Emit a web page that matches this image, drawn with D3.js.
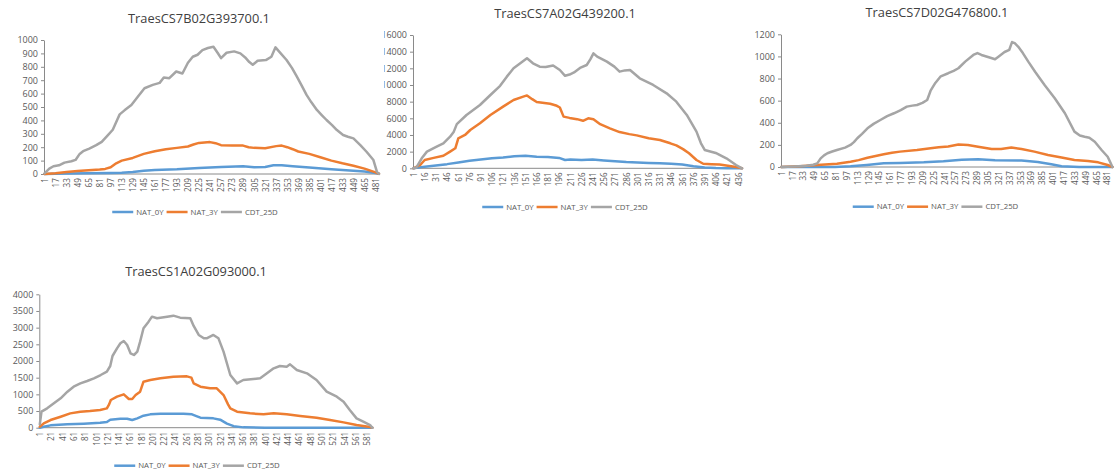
<!DOCTYPE html>
<html><head><meta charset="utf-8">
<script src="https://cdn.jsdelivr.net/npm/d3@7"></script>
<style>body{margin:0;background:#fff}svg{display:block}</style>
</head><body>
<svg id="c" width="1118" height="475"></svg>
<script>
// ---------------- data ----------------
const SERIES_NAMES = ["NAT_0Y", "NAT_3Y", "CDT_25D"];
const TITLES = ["TraesCS7B02G393700.1", "TraesCS7A02G439200.1", "TraesCS7D02G476800.1", "TraesCS1A02G093000.1"];

const P1_YTICKS = [0,100,200,300,400,500,600,700,800,900,1000];
const P2_YTICKS = [0,2000,4000,6000,8000,10000,12000,14000,16000];
const P3_YTICKS = [0,200,400,600,800,1000,1200];
const P4_YTICKS = [0,500,1000,1500,2000,2500,3000,3500,4000];

const P1_XTICKS = [1,17,33,49,65,81,97,113,129,145,161,177,193,209,225,241,257,273,289,305,321,337,353,369,385,401,417,433,449,465,481];
const P2_XTICKS = [1,16,31,46,61,76,91,106,121,136,151,166,181,196,211,226,241,256,271,286,301,316,331,346,361,376,391,406,421,436];
const P3_XTICKS = [1,17,33,49,65,81,97,113,129,145,161,177,193,209,225,241,257,273,289,305,321,337,353,369,385,401,417,433,449,465,481];
const P4_XTICKS = [1,21,41,61,81,101,121,141,161,181,201,221,241,261,281,301,321,341,361,381,401,421,441,461,481,501,521,541,561,581];

const P_NCAT = [486, 442, 489, 591];

// [category, value]
const P1_NAT_0Y = [[1,0],[33,3],[65,5],[97,8],[113,10],[129,15],[145,25],[161,30],[193,35],[225,45],[257,52],[289,57],[305,50],[321,52],[333,65],[345,65],[361,58],[385,48],[417,35],[449,25],[465,18],[481,8],[486,2]];
const P1_NAT_3Y = [[1,0],[17,5],[33,15],[49,22],[65,28],[81,33],[89,38],[97,50],[105,80],[113,100],[129,120],[145,150],[161,170],[177,185],[193,195],[209,205],[217,220],[225,232],[241,238],[249,230],[257,215],[273,212],[289,212],[297,200],[305,195],[321,192],[337,208],[345,212],[353,200],[361,185],[369,168],[385,150],[401,125],[417,100],[433,80],[449,62],[465,40],[481,12],[486,2]];
const P1_CDT_25D = [[1,5],[8,40],[14,58],[22,65],[30,85],[40,95],[46,105],[52,150],[57,170],[66,190],[76,215],[84,240],[93,290],[100,330],[106,400],[110,445],[117,475],[127,515],[136,575],[146,640],[158,665],[168,680],[174,720],[182,715],[192,765],[201,750],[209,830],[216,875],[223,890],[230,925],[238,940],[246,950],[252,905],[257,865],[265,905],[276,915],[285,900],[292,870],[298,835],[303,815],[310,845],[322,850],[330,875],[336,945],[341,915],[352,851],[360,790],[367,726],[374,660],[381,590],[388,535],[396,478],[403,440],[410,403],[418,365],[425,328],[434,291],[441,278],[449,266],[459,216],[468,166],[478,104],[483,17],[486,0]];

const P2_NAT_0Y = [[1,0],[16,200],[31,350],[46,500],[61,700],[76,900],[91,1050],[106,1200],[121,1300],[136,1450],[151,1500],[166,1400],[181,1350],[196,1250],[204,1000],[211,1050],[226,1000],[241,1050],[256,950],[271,850],[286,750],[301,700],[316,650],[331,600],[346,550],[361,450],[376,250],[391,100],[406,40],[421,15],[441,0]];
const P2_NAT_3Y = [[1,0],[10,400],[16,1000],[28,1250],[41,1500],[50,2000],[57,2400],[61,3600],[70,4000],[77,4600],[90,5400],[104,6400],[121,7400],[135,8200],[148,8600],[153,8750],[160,8300],[166,7950],[184,7750],[193,7500],[197,7300],[202,6200],[210,6050],[220,5900],[228,5700],[235,6000],[242,5900],[251,5300],[264,4800],[277,4350],[290,4100],[300,3950],[316,3600],[331,3400],[345,3000],[353,2750],[362,2300],[370,1800],[380,1000],[389,550],[400,500],[411,450],[422,300],[433,150],[441,0]];
const P2_CDT_25D = [[1,0],[5,100],[12,1200],[19,2000],[32,2600],[41,3000],[50,3800],[55,4400],[59,5300],[72,6400],[90,7600],[104,8800],[117,9900],[126,11000],[135,12000],[144,12600],[153,13200],[161,12600],[170,12200],[178,12150],[188,12350],[197,11800],[204,11100],[210,11250],[216,11500],[224,12050],[233,12400],[238,13100],[242,13800],[247,13400],[260,12800],[270,12200],[277,11600],[284,11750],[291,11800],[304,10800],[322,10000],[340,9000],[353,8000],[367,6400],[380,4400],[386,3000],[391,2200],[407,1800],[420,1200],[433,400],[441,0]];

const P3_NAT_0Y = [[1,0],[80,1],[103,6],[127,18],[152,33],[176,37],[211,42],[240,52],[267,66],[291,70],[316,60],[355,58],[379,46],[399,24],[414,6],[440,1],[489,0]];
const P3_NAT_3Y = [[1,0],[29,6],[54,18],[83,30],[103,48],[115,62],[128,84],[140,100],[152,115],[164,128],[176,139],[201,154],[221,169],[233,178],[247,186],[262,203],[276,199],[291,184],[311,163],[325,163],[340,176],[355,163],[374,139],[394,109],[414,85],[433,63],[453,54],[468,42],[482,18],[489,0]];
const P3_CDT_25D = [[1,0],[20,5],[38,12],[48,20],[54,33],[59,78],[64,105],[69,124],[76,140],[83,154],[95,175],[103,199],[108,225],[113,260],[120,300],[128,350],[137,390],[147,425],[157,460],[167,486],[177,515],[186,546],[194,555],[201,561],[209,580],[216,606],[221,690],[228,760],[236,820],[247,848],[255,870],[262,893],[272,953],[284,1013],[290,1030],[296,1013],[308,990],[316,975],[321,998],[330,1040],[337,1060],[341,1130],[345,1120],[350,1089],[357,1030],[365,953],[375,862],[389,742],[404,622],[419,486],[433,320],[441,285],[448,274],[455,265],[463,229],[473,154],[482,93],[486,40],[489,0]];

const P4_NAT_0Y = [[1,0],[8,30],[20,70],[50,100],[79,120],[108,150],[120,170],[126,240],[144,270],[156,270],[165,230],[174,280],[185,360],[197,400],[215,420],[256,420],[271,400],[280,340],[286,300],[309,280],[321,240],[333,120],[345,45],[362,10],[400,0],[591,0]];
const P4_NAT_3Y = [[1,30],[8,130],[20,230],[38,330],[55,430],[73,480],[90,500],[108,530],[120,580],[124,700],[127,830],[138,930],[150,1000],[159,860],[165,860],[171,980],[179,1080],[185,1380],[197,1430],[215,1480],[238,1530],[262,1540],[270,1500],[274,1330],[286,1230],[303,1180],[315,1180],[327,980],[335,700],[339,580],[351,480],[374,430],[398,400],[416,430],[439,400],[463,350],[492,300],[516,230],[540,160],[563,80],[587,20],[591,0]];
const P4_CDT_25D = [[1,100],[4,480],[14,580],[26,730],[38,880],[50,1080],[61,1230],[73,1330],[85,1400],[97,1480],[109,1580],[120,1680],[126,1850],[130,2150],[138,2380],[144,2530],[150,2600],[156,2480],[162,2230],[168,2180],[174,2280],[179,2580],[185,2980],[194,3180],[200,3330],[209,3280],[227,3330],[238,3360],[250,3300],[268,3280],[274,3050],[283,2780],[292,2680],[297,2680],[309,2780],[318,2680],[327,2280],[339,1580],[351,1330],[362,1430],[380,1460],[392,1480],[404,1630],[416,1780],[427,1850],[439,1830],[445,1900],[457,1730],[475,1630],[492,1430],[510,1080],[528,930],[540,780],[551,530],[563,280],[575,180],[587,80],[591,0]];

// ---------------- drawing ----------------
const COLORS = ["#5B9BD5", "#ED7D31", "#A5A5A5"];
const FONT = "'Open Sans', 'Liberation Sans', sans-serif";
const TXT = "#595959";
const AXIS = "#8a8a8a";

const panels = [
  {title: TITLES[0], yTicks: P1_YTICKS, xTicks: P1_XTICKS, n: P_NCAT[0], series: [P1_NAT_0Y, P1_NAT_3Y, P1_CDT_25D],
   axisX: 44, x1: 44.5, xRef: 481, xRefPos: 375.5, top: 40, bottom: 174, titleX: 199, titleY: 23, legX: 195, legY: 212},
  {title: TITLES[1], yTicks: P2_YTICKS, xTicks: P2_XTICKS, n: P_NCAT[1], series: [P2_NAT_0Y, P2_NAT_3Y, P2_CDT_25D],
   axisX: 413, x1: 413.5, xRef: 436, xRefPos: 738.3, top: 35, bottom: 168.3, titleX: 565, titleY: 17.5, legX: 565, legY: 207, clipLeft: 384},
  {title: TITLES[2], yTicks: P3_YTICKS, xTicks: P3_XTICKS, n: P_NCAT[2], series: [P3_NAT_0Y, P3_NAT_3Y, P3_CDT_25D],
   axisX: 781, x1: 781.3, xRef: 481, xRefPos: 1107, top: 34.3, bottom: 167, titleX: 937, titleY: 16.5, legX: 935.5, legY: 206.7},
  {title: TITLES[3], yTicks: P4_YTICKS, xTicks: P4_XTICKS, n: P_NCAT[3], series: [P4_NAT_0Y, P4_NAT_3Y, P4_CDT_25D],
   axisX: 39.3, x1: 39.8, xRef: 581, xRefPos: 366.7, top: 294.3, bottom: 427.7, titleX: 196, titleY: 276, legX: 197, legY: 465.7}
];

const svg = d3.select("#c");
const defs = svg.append("defs");

panels.forEach((p, i) => {
  let g = svg.append("g");
  if (p.clipLeft) {
    defs.append("clipPath").attr("id", "clip" + i)
      .append("rect").attr("x", p.clipLeft).attr("y", 0).attr("width", 1118).attr("height", 475);
    g.attr("clip-path", `url(#clip${i})`);
  }
  const yMax = d3.max(p.yTicks);
  const x = d3.scaleLinear().domain([1, p.xRef]).range([p.x1, p.xRefPos]);
  const y = d3.scaleLinear().domain([0, yMax]).range([p.bottom, p.top]);

  // title
  g.append("text").attr("x", p.titleX).attr("y", p.titleY).attr("text-anchor", "middle")
    .attr("fill", "#404040").style("font-family", FONT).style("font-size", "12.8px").text(p.title);

  // y axis
  const ya = g.append("g").attr("transform", `translate(${p.axisX},0)`)
    .call(d3.axisLeft(y).tickValues(p.yTicks).tickSize(3).tickSizeOuter(0).tickPadding(3).tickFormat(d3.format("d")));
  ya.select(".domain").attr("stroke", AXIS);
  ya.selectAll(".tick line").attr("stroke", AXIS);
  ya.selectAll("text").attr("fill", TXT).style("font-family", FONT).style("font-size", "9px");

  // x axis
  const xa = g.append("g").attr("transform", `translate(0,${p.bottom})`)
    .call(d3.axisBottom(x).tickValues(p.xTicks).tickSize(0).tickSizeOuter(0).tickFormat(d3.format("d")));
  xa.select(".domain").remove();
  xa.selectAll("text")
    .attr("transform", "rotate(-90)")
    .attr("text-anchor", "end")
    .attr("x", -4).attr("y", 0).attr("dy", "0.35em")
    .attr("fill", TXT).style("font-family", FONT).style("font-size", "8.2px");
  g.append("line").attr("x1", p.axisX).attr("x2", x(p.n)).attr("y1", y(0)).attr("y2", y(0))
    .attr("stroke", AXIS).attr("stroke-width", 1);

  // lines
  const line = d3.line().x(d => x(d[0])).y(d => y(d[1]));
  p.series.forEach((s, k) => {
    g.append("path").datum(s).attr("d", line).attr("fill", "none")
      .attr("stroke", COLORS[k]).attr("stroke-width", 2.5)
      .attr("stroke-linejoin", "round").attr("stroke-linecap", "round");
  });

  // legend
  const lg = g.append("g");
  let cx = 0;
  SERIES_NAMES.forEach((name, k) => {
    lg.append("line").attr("x1", cx).attr("x2", cx + 21).attr("y1", 0).attr("y2", 0)
      .attr("stroke", COLORS[k]).attr("stroke-width", 2.5);
    cx += 24;
    const t = lg.append("text").attr("x", cx).attr("y", 0).attr("dy", "0.35em")
      .attr("fill", TXT).style("font-family", FONT).style("font-size", "7.8px").text(name);
    cx += t.node().getComputedTextLength() + 3;
  });
  const w = cx - 3;
  lg.attr("transform", `translate(${p.legX - w / 2},${p.legY})`);
});
</script>
</body></html>
